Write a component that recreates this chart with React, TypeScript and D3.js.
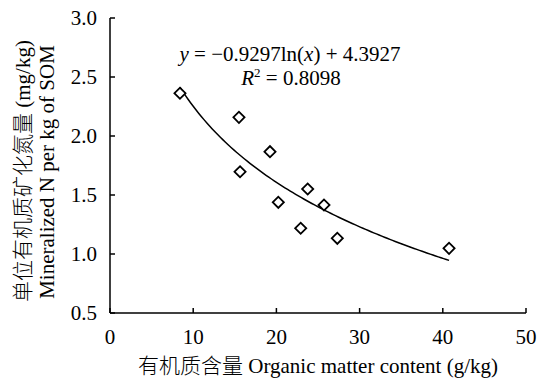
import React from "react";
import * as d3 from "d3";

const omContent = [8.41, 15.5, 19.23, 15.63, 23.76, 20.23, 25.72, 22.92, 27.32, 40.75];
const mineralN = [2.362, 2.158, 1.867, 1.697, 1.551, 1.438, 1.415, 1.218, 1.133, 1.048];
const xTicks = [0, 10, 20, 30, 40, 50];
const yTicks = [0.5, 1.0, 1.5, 2.0, 2.5, 3.0];
const fitA = -0.9297;
const fitB = 4.3927;

const W = 547;
const H = 381;
const serif = "Liberation Serif, serif";
const cjk = "Noto Sans CJK SC";

export default function App() {
  const x = d3.scaleLinear().domain([0, 50]).range([110, 526]);
  const y = d3.scaleLinear().domain([0.5, 3.0]).range([313, 18]);

  const xmin = d3.min(omContent) as number;
  const xmax = d3.max(omContent) as number;
  const curvePts: [number, number][] = d3
    .range(0, 101)
    .map((i) => xmin + ((xmax - xmin) * i) / 100)
    .map((v) => [v, fitA * Math.log(v) + fitB]);
  const line = d3
    .line<[number, number]>()
    .x((d) => x(d[0]))
    .y((d) => y(d[1]));

  const sym = d3.symbol().type(d3.symbolSquare).size(62)();

  return (
    <svg
      width={W}
      height={H}
      style={{ position: "absolute", left: 0, top: 0, background: "#fff" }}
    >
      <rect width={W} height={H} fill="#fff" />
      <line x1={x(0)} x2={x(0)} y1={y(3)} y2={y(0.5)} stroke="#000" strokeWidth={1.5} />
      <line x1={x(0)} x2={x(50)} y1={y(0.5)} y2={y(0.5)} stroke="#000" strokeWidth={1.5} />
      {yTicks.map((t) => (
        <g key={"y" + t}>
          <line x1={x(0)} x2={x(0) + 5} y1={y(t)} y2={y(t)} stroke="#000" strokeWidth={1.5} />
          <text
            x={97}
            y={y(t)}
            dy="0.35em"
            textAnchor="end"
            style={{ fontFamily: serif, fontSize: 21 }}
            fill="#000"
          >
            {t.toFixed(1)}
          </text>
        </g>
      ))}
      {xTicks.map((t) => (
        <g key={"x" + t}>
          <line x1={x(t)} x2={x(t)} y1={y(0.5)} y2={y(0.5) - 5} stroke="#000" strokeWidth={1.5} />
          <text
            x={x(t)}
            y={344}
            textAnchor="middle"
            style={{ fontFamily: serif, fontSize: 21 }}
            fill="#000"
          >
            {t}
          </text>
        </g>
      ))}
      <path d={line(curvePts) || ""} fill="none" stroke="#000" strokeWidth={1.5} />
      {omContent.map((v, i) => (
        <path
          key={i}
          d={sym || ""}
          transform={`translate(${x(v)},${y(mineralN[i])}) rotate(45)`}
          fill="#fff"
          stroke="#000"
          strokeWidth={1.8}
        />
      ))}
      <text x={290} y={61} textAnchor="middle" style={{ fontFamily: serif, fontSize: 21 }} fill="#000">
        <tspan fontStyle="italic">y</tspan>
        {" = \u22120.9297ln("}
        <tspan fontStyle="italic">x</tspan>
        {") + 4.3927"}
      </text>
      <text x={291} y={85} textAnchor="middle" style={{ fontFamily: serif, fontSize: 21 }} fill="#000">
        <tspan fontStyle="italic">R</tspan>
        <tspan fontSize={13} dy={-8}>2</tspan>
        <tspan dy={8}>{" = 0.8098"}</tspan>
      </text>
      <text
        transform="translate(30,171) rotate(-90)"
        textAnchor="middle"
        style={{ fontFamily: serif, fontSize: 21 }}
        fill="#000"
      >
        <tspan style={{ fontFamily: cjk, fontWeight: 300 }}>单位有机质矿化氮量</tspan>
        {" (mg/kg)"}
      </text>
      <text
        transform="translate(54,172) rotate(-90)"
        textAnchor="middle"
        style={{ fontFamily: serif, fontSize: 21 }}
        fill="#000"
      >
        Mineralized N per kg of SOM
      </text>
      <text x={318} y={373} textAnchor="middle" style={{ fontFamily: serif, fontSize: 21 }} fill="#000">
        <tspan style={{ fontFamily: cjk, fontWeight: 300 }}>有机质含量</tspan>
        {" Organic matter content (g/kg)"}
      </text>
    </svg>
  );
}
